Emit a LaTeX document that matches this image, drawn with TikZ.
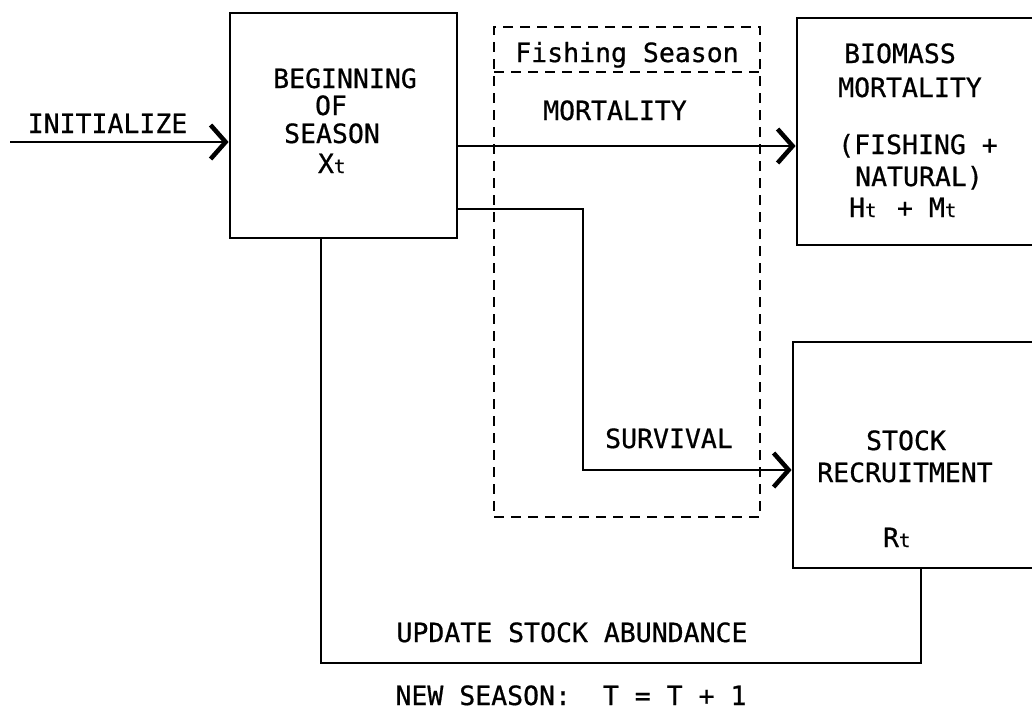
\documentclass[tikz,border=0pt]{standalone}
\usepackage{fontspec}
\setmainfont{DejaVu Sans Mono}[FakeBold=0.7]
\usetikzlibrary{arrows.meta}
\newcommand\subt{\makebox[16pt][l]{\fontsize{19}{19}\selectfont t}}
\tikzset{
  box/.style={draw, line width=2.8pt, inner sep=0pt},
  dashbox/.style={draw, line width=2.2pt, dash pattern=on 10pt off 7pt, inner sep=0pt},
  conn/.style={line width=2.8pt, -{Straight Barb[length=15pt,width=34pt,line width=4.5pt]}},
  link/.style={line width=2.8pt},
  txt/.style={font=\fontsize{26.5}{30}\selectfont, inner sep=0pt, anchor=base}
}
\begin{document}
\begin{tikzpicture}[x=1pt,y=-1pt]
\useasboundingbox (0,0) rectangle (1032,713);
\clip (0,0) rectangle (1032,713);
% boxes
\node[box, minimum width=227pt, minimum height=225pt] (begin) at (343.5,125.5) {};
\node[box, minimum width=248pt, minimum height=227pt] (biomass) at (921,131.5) {};
\node[box, minimum width=252pt, minimum height=226pt] (stock) at (919,455) {};
\node[dashbox, minimum width=266pt, minimum height=490pt] (fish) at (627,272) {};
\coordinate (divl) at (494,72);
\coordinate (divr) at (760,72);
\draw[dashbox] (divl) -- (divr);
% texts
\node[txt] (t1) at (345,88) {BEGINNING};
\node[txt] (t2) at (331,115) {OF};
\node[txt] (t3) at (332,143) {SEASON};
\node[txt] (t4) at (334,173) {X\subt};
\node[txt] (fishhdr) at (627,62) {Fishing Season};
\node[txt] (b1) at (900,63) {BIOMASS};
\node[txt] (b2) at (910,97) {MORTALITY};
\node[txt] (b3) at (918,154) {(FISHING +};
\node[txt] (b4) at (919,186) {NATURAL)};
\node[txt] (b5) at (905,217) {H\subt{} + M\subt};
\node[txt] (s1) at (906,450) {STOCK};
\node[txt] (s2) at (905,482) {RECRUITMENT};
\node[txt] (s3) at (899,547) {R\subt};
\node[txt] (linit) at (107.5,133) {INITIALIZE};
\node[txt] (lmort) at (615,120) {MORTALITY};
\node[txt] (lsurv) at (669,448) {SURVIVAL};
\node[txt] (lupd) at (572,642) {UPDATE STOCK ABUNDANCE};
\node[txt] (lnew) at (571,705) {NEW SEASON:\ \ T = T + 1};
% connectors
\coordinate (initstart) at (10,142);
\draw[conn] (initstart) -- (initstart -| begin.west);
\coordinate (mortstart) at (begin.east |- 0,146);
\draw[conn] (mortstart) -- (mortstart -| biomass.west);
\coordinate (survstart) at (begin.east |- 0,209);
\coordinate (survbend) at (583,470);
\draw[conn] (survstart) -| (survbend) -- (survbend -| stock.west);
\coordinate (fbtop) at (begin.south -| 321,0);
\coordinate (fbl) at (321,663);
\coordinate (fbr) at (921,663);
\draw[link] (fbtop) -- (fbl) -- (fbr) -- (fbr |- stock.south);
\end{tikzpicture}
\end{document}
